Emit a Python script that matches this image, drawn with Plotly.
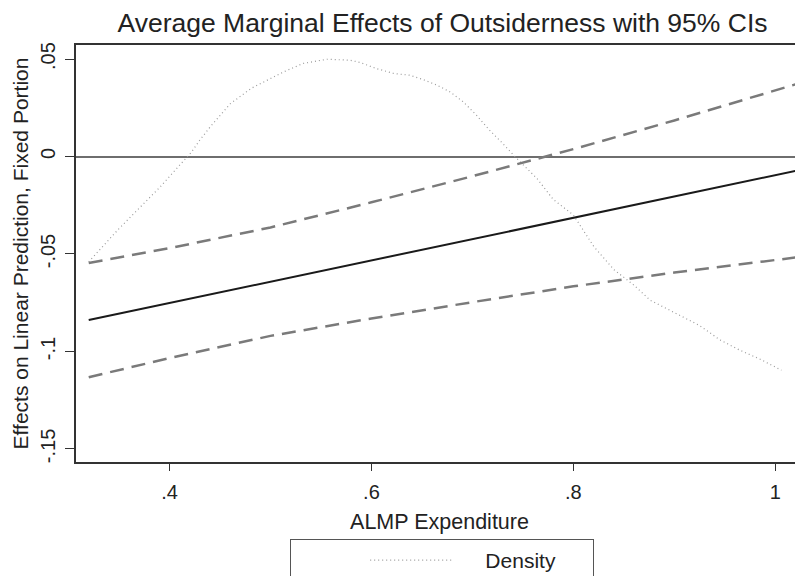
import plotly.graph_objects as go

# ---- data ----
x_grid = [0.32, 0.40, 0.50, 0.60, 0.70, 0.80, 0.90, 1.02]
effect = [-0.0839, -0.0752, -0.0642, -0.0533, -0.0424, -0.0314, -0.0205, -0.0074]
ci_upper = [-0.0546, -0.0470, -0.0364, -0.0235, -0.0101, 0.0038, 0.0185, 0.0370]
ci_lower = [-0.1132, -0.1034, -0.0920, -0.0831, -0.0747, -0.0666, -0.0595, -0.0518]

density_x = [0.32, 0.35, 0.39, 0.422, 0.43, 0.44, 0.46, 0.481, 0.513, 0.532, 0.556,
             0.579, 0.589, 0.605, 0.622, 0.638, 0.651, 0.665, 0.678, 0.691, 0.704,
             0.717, 0.730, 0.742, 0.764, 0.78, 0.80, 0.82, 0.84, 0.86, 0.876, 0.90,
             0.925, 0.945, 0.965, 0.985, 1.006]
density_y = [-0.054, -0.037, -0.016, 0.0024, 0.0084, 0.0150, 0.0270, 0.0350, 0.0434,
             0.0477, 0.0499, 0.0494, 0.0482, 0.0451, 0.0426, 0.0417, 0.0395, 0.0366,
             0.0331, 0.0280, 0.0212, 0.0135, 0.0067, 0.0, -0.0113, -0.0220, -0.0300,
             -0.0460, -0.0580, -0.0660, -0.0737, -0.0800, -0.0867, -0.0940, -0.0994,
             -0.1040, -0.1096]

x_ticks = [0.4, 0.6, 0.8, 1.0]
x_ticktext = [".4", ".6", ".8", "1"]
y_ticks = [-0.15, -0.10, -0.05, 0.0, 0.05]
y_ticktext = ["-.15", "-.1", "-.05", "0", ".05"]

FONT = "Liberation Sans, Arial, Helvetica, sans-serif"
TXT = "#222222"
NB = "\u00a0"
OFF = 8  # page body margin offset

fig = go.Figure()
fig.add_trace(go.Scatter(x=density_x, y=density_y, mode="lines",
                         name=NB * 5 + "Density",
                         line=dict(color="#9a9a9a", width=1.2, dash="1px,3px"),
                         showlegend=True))
fig.add_trace(go.Scatter(x=x_grid, y=ci_upper, mode="lines", name="Upper CI",
                         line=dict(color="#7a7a7a", width=2.5, dash="14px,8px"),
                         showlegend=False))
fig.add_trace(go.Scatter(x=x_grid, y=ci_lower, mode="lines", name="Lower CI",
                         line=dict(color="#7a7a7a", width=2.5, dash="14px,8px"),
                         showlegend=False))
fig.add_trace(go.Scatter(x=x_grid, y=effect, mode="lines", name="Effect",
                         line=dict(color="#1a1a1a", width=2),
                         showlegend=False))

fig.update_layout(
    width=803 - OFF, height=576 - OFF,
    margin=dict(l=76 - OFF, r=0, t=45 - OFF, b=114, autoexpand=False),
    paper_bgcolor="white", plot_bgcolor="white",
    font=dict(family=FONT, color=TXT, size=20),
    title=dict(text="Average Marginal Effects of Outsiderness with 95% CIs",
               x=(442.5 - OFF) / (803 - OFF), xanchor="center", xref="container",
               y=1 - (23 - OFF) / (576 - OFF), yanchor="middle", yref="container",
               font=dict(size=26.5, color=TXT, family=FONT)),
    xaxis=dict(range=[0.3074, 1.0274], tickvals=x_ticks, ticktext=x_ticktext,
               showgrid=False, zeroline=False, showline=True, linecolor="#333333",
               linewidth=1.5, mirror=True, ticks="outside", ticklen=7, tickwidth=1,
               tickcolor="#333333", tickfont=dict(size=20), automargin=False,
               ticklabelstandoff=4,
               title=dict(text="ALMP Expenditure", font=dict(size=21.5), standoff=12)),
    yaxis=dict(range=[-0.1567, 0.0572], tickvals=y_ticks, ticktext=y_ticktext,
               showgrid=False, zeroline=True, zerolinecolor="#6e6e6e", zerolinewidth=2,
               showline=True, linecolor="#333333", linewidth=1.5, mirror=False,
               ticks="outside", ticklen=9, tickwidth=1, tickcolor="#333333",
               tickangle=-90, tickfont=dict(size=20), automargin=False,
               ticklabelstandoff=2,
               title=dict(text="Effects on Linear Prediction, Fixed Portion",
                          font=dict(size=21), standoff=3)),
    legend=dict(orientation="h", x=(290 - 76) / 727, y=(462 - 539) / 417,
                xanchor="left", yanchor="top", bordercolor="#555555", borderwidth=1,
                bgcolor="white", font=dict(size=21), itemwidth=81, entrywidth=131,
                title=dict(text=NB * 11, side="left", font=dict(size=21))),
)

fig.write_html("out.html")
